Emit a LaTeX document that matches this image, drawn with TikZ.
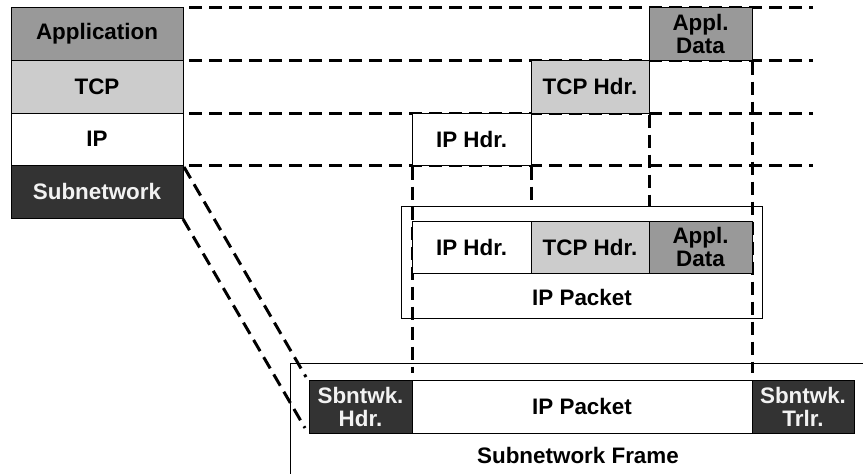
\documentclass[tikz,border=0pt]{standalone}
\usepackage{fontspec}
\setmainfont{Liberation Sans}
\begin{document}
\begin{tikzpicture}[x=1pt,y=-1pt,
  every node/.style={font=\fontsize{22.4}{23}\selectfont\bfseries},
  box/.style={draw=black,line width=1pt,inner sep=0pt,outer sep=0pt,align=center,text=black},
  gmid/.style={box,fill=gmidc},
  glight/.style={box,fill=glightc},
  gwhite/.style={box,fill=white},
  gdark/.style={box,fill=gdarkc,text=gtextc},
  lbl/.style={inner sep=0pt,text=black},
  dl/.style={draw=black,line width=3pt,dash pattern=on 13pt off 7pt}]
\definecolor{gmidc}{HTML}{999999}
\definecolor{glightc}{HTML}{CCCCCC}
\definecolor{gdarkc}{HTML}{333333}
\definecolor{gtextc}{HTML}{F2F2F2}
\useasboundingbox (0,0) rectangle (863,474);
% left stack
\node[gmid,minimum width=172pt,minimum height=53pt] (app) at (97,33.5) {Application};
\node[glight,minimum width=172pt,minimum height=53pt] (tcp) at (97,86.5) {TCP};
\node[gwhite,minimum width=172pt,minimum height=52pt] (ip) at (97,139) {IP};
\node[gdark,minimum width=172pt,minimum height=53pt] (sub) at (97,191.5) {Subnetwork};
% free ends of the horizontal dashed lines
\coordinate (e1) at (813,7);
\coordinate (e2) at (813,60);
\coordinate (e3) at (813,113);
\coordinate (e4) at (813,165);
\draw[dl] ([xshift=6pt]app.north east) -- (e1);
\draw[dl] ([xshift=6pt]tcp.north east) -- (e2);
\draw[dl] ([xshift=6pt]ip.north east) -- (e3);
\draw[dl] ([xshift=6pt]sub.north east) -- (e4);
% frame nodes
\node[gdark,minimum width=103pt,minimum height=53pt] (sh) at (360.5,406.5) {Sbntwk.\\Hdr.};
\node[gwhite,minimum width=340pt,minimum height=53pt] (ipf) at (582,406.5) {IP Packet};
\node[gdark,minimum width=102pt,minimum height=53pt] (st) at (803,406.5) {Sbntwk.\\Trlr.};
% IP packet outer box
\node[box,minimum width=361pt,minimum height=112pt] (ippkt) at (581.5,262) {};
% staircase boxes
\node[gmid,minimum width=103pt,minimum height=53pt] (ad) at (700.5,33.5) {Appl.\\Data};
\node[glight,minimum width=118pt,minimum height=53pt] (th) at (590,86.5) {TCP Hdr.};
\node[gwhite,minimum width=119pt,minimum height=52pt] (ih) at (471.5,139) {IP Hdr.};
% vertical dashed lines
\draw[dl] ([yshift=-1.5pt]ih.south west) -- ([yshift=7pt]sh.north east);
\draw[dl] ([yshift=-1.5pt]ih.south east) -- (ippkt.north -| ih.south east);
\draw[dl] ([yshift=-1.5pt]th.south east) -- (ippkt.north -| th.south east);
\draw[dl] ([yshift=-1.5pt]ad.south east) -- ([yshift=7pt]st.north west);
% IP packet inner boxes
\node[gwhite,minimum width=119pt,minimum height=52pt] (ih2) at (471.5,247) {IP Hdr.};
\node[glight,minimum width=118pt,minimum height=52pt] (th2) at (590,247) {TCP Hdr.};
\node[gmid,minimum width=103pt,minimum height=52pt] (ad2) at (700.5,247) {Appl.\\Data};
\node[lbl] (iplbl) at (582,297) {IP Packet};
% subnetwork frame
\coordinate (fr) at (863,363);
\coordinate (fb) at (290,474);
\draw[line width=1pt] (fr) -- (fr -| fb) -- (fb);
\node[lbl] (frlbl) at (578,455) {Subnetwork Frame};
% diagonal dashed lines
\draw[dl] ([xshift=1pt,yshift=-2pt]sub.north east) -- ([xshift=-3pt,yshift=3pt]sh.north west);
\draw[dl] ([xshift=0pt,yshift=-1pt]sub.south east) -- ([xshift=-4pt,yshift=5pt]sh.south west);
\end{tikzpicture}
\end{document}
